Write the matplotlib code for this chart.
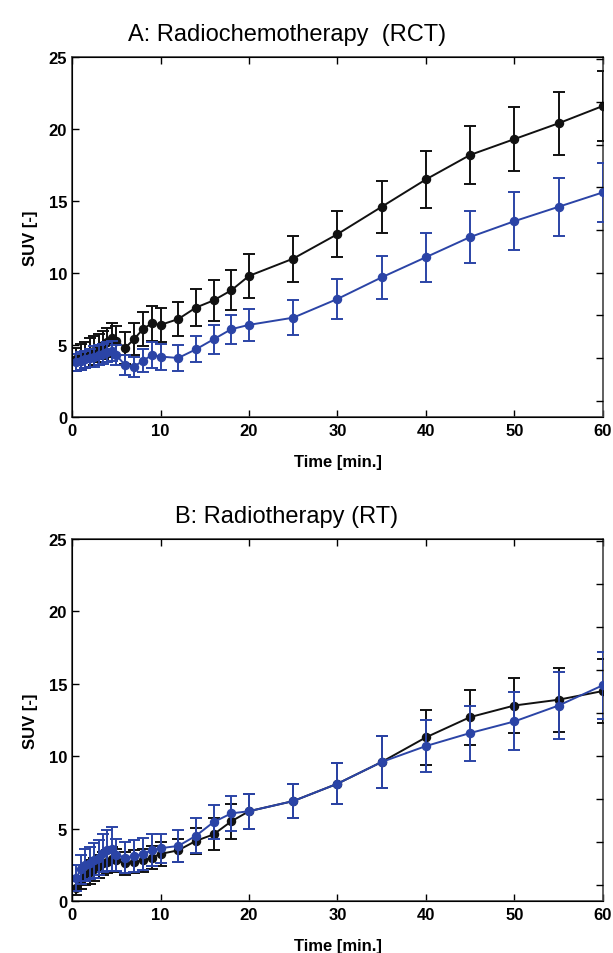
import matplotlib
matplotlib.use('Agg')
import matplotlib.pyplot as plt

# frame mid times (min)
t = [0.5, 1, 1.5, 2, 2.5, 3, 3.5, 4, 4.5, 5, 6, 7, 8, 9, 10, 12, 14, 16, 18, 20,
     25, 30, 35, 40, 45, 50, 55, 60]

# A: RCT
rct_black = [4.0, 4.2, 4.3, 4.5, 4.6, 4.8, 5.0, 5.2, 5.5, 5.3, 4.8, 5.4, 6.1, 6.5, 6.4,
             6.8, 7.6, 8.1, 8.8, 9.8, 11.0, 12.7, 14.6, 16.5, 18.2, 19.3, 20.4, 21.6]
rct_black_err = [0.8, 0.9, 0.9, 1.0, 1.0, 1.0, 1.0, 1.0, 1.0, 1.0, 1.1, 1.1, 1.2, 1.2, 1.2,
                 1.2, 1.3, 1.4, 1.4, 1.5, 1.6, 1.6, 1.8, 2.0, 2.0, 2.2, 2.2, 2.4]
rct_blue = [3.8, 3.9, 4.0, 4.1, 4.2, 4.3, 4.4, 4.5, 4.6, 4.3, 3.6, 3.5, 3.9, 4.3, 4.2,
            4.1, 4.7, 5.4, 6.1, 6.4, 6.9, 8.2, 9.7, 11.1, 12.5, 13.6, 14.6, 15.6]
rct_blue_err = [0.6, 0.6, 0.6, 0.6, 0.7, 0.7, 0.7, 0.7, 0.7, 0.7, 0.7, 0.7, 0.8, 0.9, 0.9,
                0.9, 0.9, 1.0, 1.0, 1.1, 1.2, 1.4, 1.5, 1.7, 1.8, 2.0, 2.0, 2.05]

# B: RT
rt_black = [0.9, 1.5, 1.8, 2.0, 2.2, 2.4, 2.6, 2.7, 2.9, 2.8, 2.6, 2.7, 2.8, 3.0, 3.25,
            3.5, 4.15, 4.6, 5.5, 6.2, 6.9, 8.1, 9.6, 11.3, 12.7, 13.5, 13.9, 14.5]
rt_black_err = [0.5, 0.7, 0.7, 0.8, 0.8, 0.8, 0.8, 0.8, 0.8, 0.8, 0.8, 0.8, 0.8, 0.8, 0.8,
                0.8, 0.9, 1.1, 1.2, 1.2, 1.2, 1.4, 1.8, 1.9, 1.9, 1.9, 2.2, 2.2]
rt_blue = [1.6, 2.2, 2.5, 2.6, 2.8, 3.0, 3.3, 3.5, 3.6, 3.2, 3.0, 3.1, 3.25, 3.5, 3.65,
           3.8, 4.5, 5.45, 6.05, 6.2, 6.9, 8.1, 9.6, 10.7, 11.6, 12.4, 13.5, 14.9]
rt_blue_err = [0.9, 1.0, 1.1, 1.1, 1.2, 1.2, 1.3, 1.4, 1.5, 1.1, 1.1, 1.1, 1.1, 1.1, 1.0,
               1.1, 1.2, 1.2, 1.2, 1.2, 1.2, 1.4, 1.8, 1.8, 1.9, 2.0, 2.3, 2.3]

xticks = [0, 10, 20, 30, 40, 50, 60]
yticks = [0, 5, 10, 15, 20, 25]

black = '#111111'
blue = '#2b44a6'
font = ['Liberation Sans', 'DejaVu Sans']

fig = plt.figure(figsize=(6.13, 9.54), dpi=100)
axA = fig.add_axes([0.1175, 0.5618, 0.866, 0.3774])
axB = fig.add_axes([0.1175, 0.0545, 0.866, 0.3795])

panels = [
    (axA, 'A: Radiochemotherapy  (RCT)', rct_black, rct_black_err, rct_blue, rct_blue_err),
    (axB, 'B: Radiotherapy (RT)', rt_black, rt_black_err, rt_blue, rt_blue_err),
]

for ax, title, yk, ek, yb, eb in panels:
    ax.errorbar(t, yk, yerr=ek, color=black, marker='o', markersize=5.8, lw=1.4,
                elinewidth=1.4, capsize=4, capthick=1.4, zorder=3)
    ax.errorbar(t, yb, yerr=eb, color=blue, marker='o', markersize=5.8, lw=1.4,
                elinewidth=1.4, capsize=4, capthick=1.4, zorder=4)
    ax.set_xlim(0, 60)
    ax.set_ylim(0, 25)
    ax.set_xticks(xticks)
    ax.set_yticks(yticks)
    ax.tick_params(direction='in', top=True, length=5, width=1, labelsize=12)
    ax.tick_params(axis='x', pad=4)
    ax.tick_params(axis='y', pad=3.5)
    for lab in ax.get_xticklabels() + ax.get_yticklabels():
        lab.set_fontweight('bold')
        lab.set_family(font)
    for s in ax.spines.values():
        s.set_linewidth(1.2)
        s.set_color('#444444')
    ax.set_xlabel('Time [min.]', fontsize=12, fontweight='bold', family=font, labelpad=12)
    ax.set_ylabel('SUV [-]', fontsize=12, fontweight='bold', family=font, labelpad=8)
    ax.set_title(title, fontsize=17, family=font, x=0.405, pad=12)
    # second axis ticks on the right side
    ax2 = ax.twinx()
    ax2.set_ylim(-0.38, 8.05)
    ax2.set_yticks(range(0, 9))
    ax2.tick_params(direction='in', length=5, width=1, labelright=False)
    ax2.spines['right'].set_visible(False)

fig.savefig('out.png', dpi=100)
